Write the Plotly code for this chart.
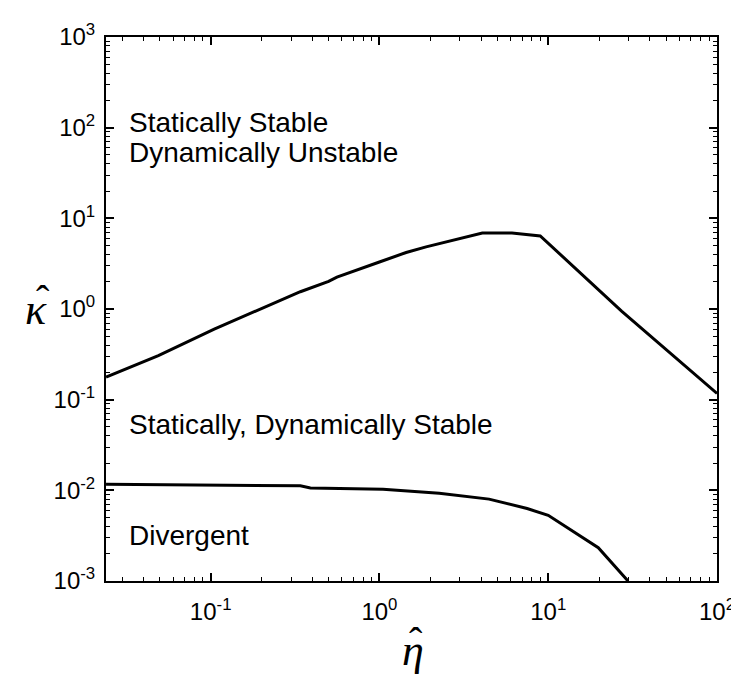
import plotly.graph_objects as go

# Upper boundary (statically stable / dynamically unstable vs stable)
eta_upper = [0.024, 0.049, 0.105, 0.34, 0.50, 0.56, 1.0, 1.44, 1.89, 3.25, 4.07, 6.1, 8.97, 27.2, 100]
kappa_upper = [0.177, 0.306, 0.60, 1.55, 2.02, 2.25, 3.30, 4.20, 4.85, 6.20, 6.90, 6.90, 6.40, 0.95, 0.117]

# Lower boundary (stable vs divergent)
eta_lower = [0.024, 0.34, 0.39, 1.05, 2.26, 4.46, 7.5, 10, 19.8, 29.7]
kappa_lower = [0.0117, 0.0112, 0.0106, 0.0103, 0.0093, 0.0080, 0.0063, 0.0053, 0.00233, 0.001]

x_tick_vals = [0.1, 1, 10, 100]
x_tick_text = ["10<sup>-1</sup>", "10<sup>0</sup>", "10<sup>1</sup>", "10<sup>2</sup>"]
y_tick_vals = [1e-3, 1e-2, 1e-1, 1, 10, 100, 1000]
y_tick_text = ["10<sup>-3</sup>", "10<sup>-2</sup>", "10<sup>-1</sup>", "10<sup>0</sup>",
               "10<sup>1</sup>", "10<sup>2</sup>", "10<sup>3</sup>"]

region_labels = ["Statically Stable", "Dynamically Unstable",
                 "Statically, Dynamically Stable", "Divergent"]
region_y = [0.843, 0.788, 0.288, 0.084]

fig = go.Figure()
fig.add_trace(go.Scatter(x=eta_upper, y=kappa_upper, mode="lines",
                         line=dict(color="black", width=3), showlegend=False))
fig.add_trace(go.Scatter(x=eta_lower, y=kappa_lower, mode="lines",
                         line=dict(color="black", width=3), showlegend=False))

axis_common = dict(
    showgrid=False, zeroline=False, showline=True, linecolor="black", linewidth=2,
    mirror="allticks", ticks="inside", ticklen=8, tickwidth=1.6, tickcolor="black",
    tickfont=dict(family="Liberation Sans, Arial", size=24, color="black"),
    minor=dict(ticks="inside", dtick="D1", ticklen=4, tickwidth=1.3,
               tickcolor="black", showgrid=False),
)

fig.update_xaxes(type="log", range=[-1.62, 2], tickmode="array",
                 tickvals=x_tick_vals, ticktext=x_tick_text,
                 ticklabelstandoff=8, **axis_common)
fig.update_yaxes(type="log", range=[-3, 3], tickmode="array",
                 tickvals=y_tick_vals, ticktext=y_tick_text,
                 ticklabelstandoff=4, **axis_common)

for txt, yy in zip(region_labels, region_y):
    fig.add_annotation(text=txt, xref="paper", yref="paper", x=0.034, y=yy,
                       xanchor="left", yanchor="middle", showarrow=False,
                       font=dict(family="Liberation Sans, Arial", size=28, color="black"))

serif = dict(family="Liberation Serif, Times New Roman", size=44, color="black")
hat = dict(family="Liberation Serif, Times New Roman", size=40, color="black")
# kappa hat label
fig.add_annotation(text="<i>κ</i>", xref="paper", yref="paper", x=-0.115, y=0.50,
                   xanchor="center", yanchor="middle", showarrow=False, font=serif)
fig.add_annotation(text="ˆ", xref="paper", yref="paper", x=-0.103, y=0.517,
                   xanchor="center", yanchor="middle", showarrow=False, font=hat)
# eta hat label
fig.add_annotation(text="<i>η</i>", xref="paper", yref="paper", x=0.502, y=-0.128,
                   xanchor="center", yanchor="middle", showarrow=False, font=serif)
fig.add_annotation(text="ˆ", xref="paper", yref="paper", x=0.507, y=-0.111,
                   xanchor="center", yanchor="middle", showarrow=False, font=hat)

fig.update_layout(width=739, height=677, plot_bgcolor="white", paper_bgcolor="white",
                  margin=dict(l=98, r=26, t=25, b=104), showlegend=False)

fig.write_html("out.html")
